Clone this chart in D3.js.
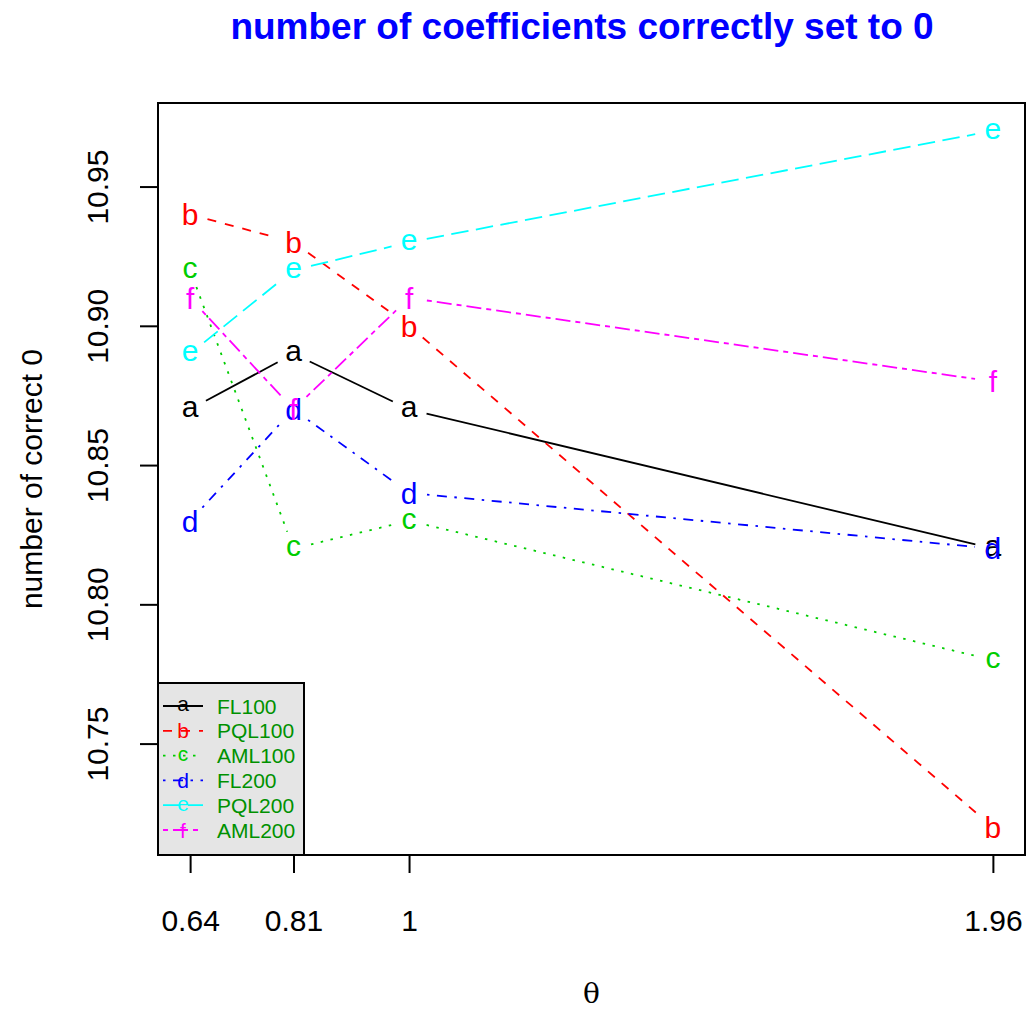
<!DOCTYPE html>
<html>
<head>
<meta charset="utf-8">
<script src="https://cdn.jsdelivr.net/npm/d3@7"></script>
<style>
  body { margin: 0; background: #fff; }
  text { font-family: "Liberation Sans", Arial, sans-serif; }
</style>
</head>
<body>
<div class="canvas"></div>
<script>
// data
const theta = [0.64, 0.81, 1, 1.96];
const seriesNames = ['FL100', 'PQL100', 'AML100', 'FL200', 'PQL200', 'AML200'];
const seriesLetters = ['a', 'b', 'c', 'd', 'e', 'f'];
const FL100 = [10.87, 10.89, 10.87, 10.82];
const PQL100 = [10.94, 10.93, 10.90, 10.72];
const AML100 = [10.92, 10.82, 10.83, 10.78];
const FL200 = [10.83, 10.87, 10.84, 10.82];
const PQL200 = [10.89, 10.92, 10.93, 10.97];
const AML200 = [10.91, 10.87, 10.91, 10.88];
const yTicks = [10.75, 10.80, 10.85, 10.90, 10.95];

const colors = ['#000000', '#ff0000', '#00cd00', '#0000ff', '#00ffff', '#ff00ff'];
// R lty 1..6 scaled
const dashes = ['none', '9,9', '2.5,7.5', '2.5,7.5,10,7.5', '17.5,7.5', '5,5,15,5'];

const allSeries = [FL100, PQL100, AML100, FL200, PQL200, AML200];

const width = 1028, height = 1010;
const margin = { top: 103, right: 3, bottom: 155, left: 158 };
const fs = 30;

// letters with ascenders are centred a bit lower
const letterDy = l => 'bdf'.includes(l) ? '0.36em' : '0.26em';

const svg = d3.select('.canvas')
    .append('svg')
    .attr('width', width)
    .attr('height', height);

// R style 4% axis padding
const xr = d3.extent(theta);
const xpad = (xr[1] - xr[0]) * 0.04;
const allVals = allSeries.flat();
const yr = d3.extent(allVals);
const ypad = (yr[1] - yr[0]) * 0.04;

const x = d3.scaleLinear()
    .domain([xr[0] - xpad, xr[1] + xpad])
    .range([margin.left, width - margin.right]);
const y = d3.scaleLinear()
    .domain([yr[0] - ypad, yr[1] + ypad])
    .range([height - margin.bottom, margin.top]);

// lines with gaps around letters (type = "b")
const gap = 18;
allSeries.forEach((vals, i) => {
    const pts = theta.map((t, j) => [x(t), y(vals[j])]);
    for (let j = 0; j < pts.length - 1; j++) {
        const [x0, y0] = pts[j], [x1, y1] = pts[j + 1];
        const len = Math.hypot(x1 - x0, y1 - y0);
        if (len <= 2 * gap) continue;
        const ux = (x1 - x0) / len, uy = (y1 - y0) / len;
        svg.append('line')
            .attr('x1', x0 + ux * gap).attr('y1', y0 + uy * gap)
            .attr('x2', x1 - ux * gap).attr('y2', y1 - uy * gap)
            .attr('stroke', colors[i])
            .attr('stroke-width', 1.8)
            .attr('stroke-dasharray', dashes[i]);
    }
    svg.selectAll(null)
        .data(vals)
        .enter()
        .append('text')
        .attr('x', (d, j) => x(theta[j]))
        .attr('y', d => y(d))
        .attr('dy', letterDy(seriesLetters[i]))
        .attr('text-anchor', 'middle')
        .attr('font-size', fs)
        .attr('fill', colors[i])
        .text(seriesLetters[i]);
});

// plot box
svg.append('rect')
    .attr('x', margin.left)
    .attr('y', margin.top)
    .attr('width', width - margin.left - margin.right)
    .attr('height', height - margin.bottom - margin.top)
    .attr('fill', 'none')
    .attr('stroke', '#000')
    .attr('stroke-width', 2);

// axes
const xAxis = d3.axisBottom(x)
    .tickValues(theta)
    .tickFormat(d => String(d))
    .tickSize(18);
const xAxisGroup = svg.append('g')
    .attr('transform', `translate(0, ${height - margin.bottom})`)
    .call(xAxis);
xAxisGroup.select('.domain').remove();

const yAxis = d3.axisLeft(y)
    .tickValues(yTicks)
    .tickFormat(d3.format('.2f'))
    .tickSize(18);
const yAxisGroup = svg.append('g')
    .attr('transform', `translate(${margin.left}, 0)`)
    .call(yAxis);
yAxisGroup.select('.domain').remove();

[xAxisGroup, yAxisGroup].forEach(g => {
    g.selectAll('line').attr('stroke-width', 2);
    g.selectAll('text')
        .attr('font-size', fs)
        .attr('font-family', '"Liberation Sans", Arial, sans-serif')
        .attr('fill', '#000');
});

xAxisGroup.selectAll('text')
    .attr('y', 76)
    .attr('dy', 0);

// rotate y tick labels like R (las = 0)
yAxisGroup.selectAll('text')
    .attr('x', null).attr('dy', null)
    .attr('text-anchor', 'middle')
    .attr('transform', 'translate(-50, 0) rotate(-90)');

// titles
svg.append('text')
    .attr('x', 582)
    .attr('y', 39)
    .attr('text-anchor', 'middle')
    .attr('font-size', 37)
    .attr('font-weight', 'bold')
    .attr('fill', '#0000ff')
    .text('number of coefficients correctly set to 0');

svg.append('text')
    .attr('x', (margin.left + width - margin.right) / 2)
    .attr('y', 1003)
    .attr('text-anchor', 'middle')
    .attr('font-size', 28)
    .style('font-family', '"DejaVu Serif", serif')
    .text('θ');

svg.append('text')
    .attr('transform', `translate(42, ${(margin.top + height - margin.bottom) / 2}) rotate(-90)`)
    .attr('text-anchor', 'middle')
    .attr('font-size', fs)
    .text('number of correct 0');

// legend
const legendTop = 683;
const legend = svg.append('g')
    .attr('transform', `translate(${margin.left}, ${legendTop})`);
legend.append('rect')
    .attr('width', 146)
    .attr('height', height - margin.bottom - legendTop)
    .attr('fill', '#e5e5e5')
    .attr('stroke', '#000')
    .attr('stroke-width', 2);

seriesNames.forEach((name, i) => {
    const row = legend.append('g')
        .attr('transform', `translate(0, ${23 + i * 24.8})`);
    row.append('line')
        .attr('x1', 5).attr('x2', 45)
        .attr('stroke', colors[i])
        .attr('stroke-width', 1.8)
        .attr('stroke-dasharray', dashes[i]);
    row.append('text')
        .attr('x', 25)
        .attr('dy', letterDy(seriesLetters[i]))
        .attr('text-anchor', 'middle')
        .attr('font-size', 21)
        .attr('fill', colors[i])
        .text(seriesLetters[i]);
    row.append('text')
        .attr('x', 59)
        .attr('dy', '0.36em')
        .attr('font-size', 21)
        .attr('fill', '#009100')
        .text(name);
});
</script>
</body>
</html>
